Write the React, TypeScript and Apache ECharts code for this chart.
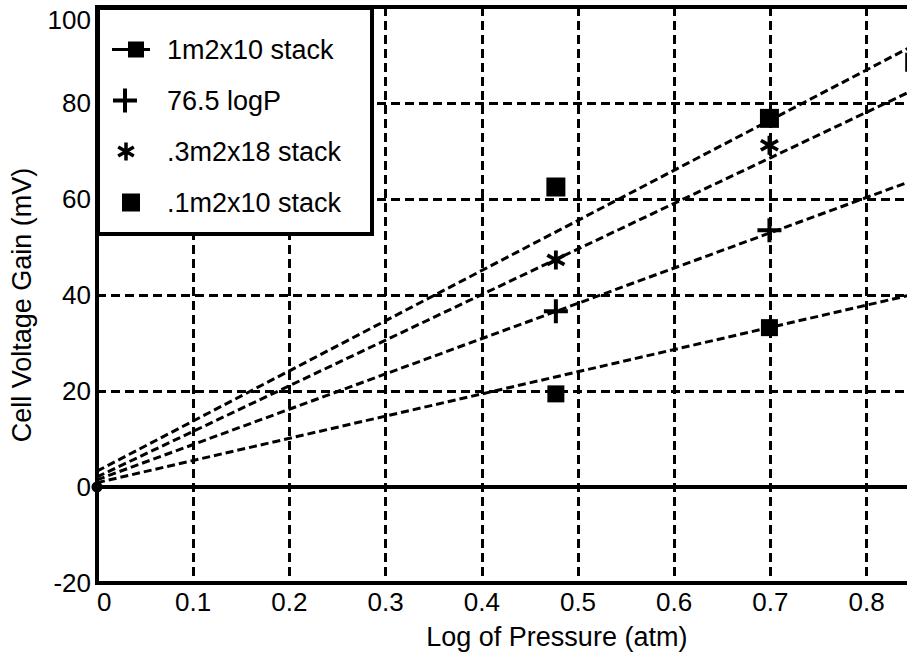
import React, { useEffect, useRef } from "react";
import * as echarts from "echarts";

// ---------- data ----------
const seriesNames = ["1m2x10 stack", "76.5 logP", ".3m2x18 stack", ".1m2x10 stack"];

const stack1X = [0, 0.477, 0.699, 0.85];
const stack1Y = [0, 62.5, 76.8, 88.5];
const logPX = [0.477, 0.699];
const logPY = [36.6, 53.5];
const stack3X = [0.477, 0.699];
const stack3Y = [47.3, 71.2];
const stack01X = [0.477, 0.699];
const stack01Y = [19.4, 33.2];

// fitted lines: value at x = fitX[0] and x = fitX[1]
const fitX = [0, 0.956];
const fitTop = [3.3, 103.2];
const fitStar = [2.1, 92.9];
const fitLogP = [1.5, 71.8];
const fitBottom = [0.9, 45.1];

const xMin = 0;
const xMax = 0.956;
const xInterval = 0.1;
const xLastLabel = 0.8;
const yMin = -20;
const yMax = 100;
const yInterval = 20;

const xTitle = "Log of Pressure (atm)";
const yTitle = "Cell Voltage Gain (mV)";

// ---------- shape helpers ----------
const f = (v: number) => v.toFixed(3);
function rectPath(x1: number, y1: number, x2: number, y2: number) {
  return `M${f(x1)},${f(y1)}H${f(x2)}V${f(y2)}H${f(x1)}Z`;
}
function barPath(cx: number, cy: number, half: number, hw: number, deg: number) {
  const t = (deg * Math.PI) / 180;
  const d = [Math.cos(t), Math.sin(t)];
  const n = [-Math.sin(t), Math.cos(t)];
  const p = (a: number, b: number) =>
    `${f(cx + a * half * d[0] + b * hw * n[0])},${f(cy + a * half * d[1] + b * hw * n[1])}`;
  return `M${p(-1, 1)}L${p(-1, -1)}L${p(1, -1)}L${p(1, 1)}Z`;
}
function asteriskPath(cx: number, cy: number, half: number, hw: number) {
  return barPath(cx, cy, half, hw, 90) + barPath(cx, cy, half, hw, 30) + barPath(cx, cy, half, hw, 150);
}
const LW = 54;
const LH = 24;
const specks = `M0,0L0.01,0L0,0.01ZM${LW},${LH}L${LW - 0.01},${LH}L${LW},${LH - 0.01}Z`;
const legendIcons = [
  "path://" + specks + rectPath(4, 10.5, 42, 13.5) + rectPath(20, 4, 36, 20),
  "path://" + specks + rectPath(5, 10, 29, 14) + rectPath(15, 0, 19, 24),
  "path://" + specks + asteriskPath(18, 12, 9, 1.75),
  "path://" + specks + rectPath(14, 3, 32, 21),
];
const plusSymbol = "path://" + rectPath(0, 10, 24, 14) + rectPath(10, 0, 14, 24);
const starSymbol = "path://" + asteriskPath(9, 9, 9, 1.75);

const FONT = "'Liberation Sans', Arial, Helvetica, sans-serif";

const zip = (xs: number[], ys: number[]) => xs.map((x, i) => [x, ys[i]]);

export default function App() {
  const ref = useRef<HTMLDivElement>(null);
  useEffect(() => {
    if (!ref.current) return;
    const chart = echarts.init(ref.current, undefined, { renderer: "svg" });
    const dashed = { color: "#000", width: 3, type: [9, 5] as any };
    const black = { color: "#000", opacity: 1 };
    const fitLine = (name: string, ys: number[]) => ({
      name,
      type: "line",
      data: zip(fitX, ys),
      showSymbol: false,
      symbol: "none",
      lineStyle: { color: "#000", width: 3, type: [8, 4] },
      silent: true,
      z: 3,
    });
    const option: any = {
      animation: false,
      textStyle: { fontFamily: FONT, color: "#000" },
      grid: {
        left: 97,
        top: 7,
        bottom: 74,
        width: 962 * xMax,
        outerBoundsMode: "none",
        containLabel: false,
        show: true,
        borderColor: "#000",
        borderWidth: 4,
        backgroundColor: "#fff",
      },
      xAxis: {
        type: "value",
        min: xMin,
        max: xMax,
        interval: xInterval,
        name: xTitle,
        nameLocation: "middle",
        nameGap: 40,
        nameTextStyle: { fontSize: 27, color: "#000", fontFamily: FONT },
        axisLine: { show: true, onZero: false, lineStyle: { color: "#000", width: 4 } },
        axisTick: { show: false },
        axisLabel: {
          fontSize: 26,
          color: "#000",
          margin: 6,
          fontFamily: FONT,
          alignMinLabel: "left",
          showMaxLabel: false,
          formatter: (v: number) => (v > xLastLabel + 0.01 ? "" : String(+v.toFixed(2))),
        },
        splitLine: { show: true, lineStyle: dashed },
      },
      yAxis: {
        type: "value",
        min: yMin,
        max: yMax,
        interval: yInterval,
        name: yTitle,
        nameLocation: "middle",
        nameGap: 62,
        nameTextStyle: { fontSize: 27, color: "#000", fontFamily: FONT, padding: [0, 20, 0, 0] },
        axisLine: { show: true, onZero: false, lineStyle: { color: "#000", width: 4 } },
        axisTick: { show: false },
        axisLabel: {
          fontSize: 26,
          color: "#000",
          margin: 6,
          fontFamily: FONT,
          verticalAlignMaxLabel: "top",
        },
        splitLine: { show: true, lineStyle: dashed },
      },
      legend: {
        orient: "vertical",
        left: 103,
        top: 31,
        itemWidth: LW,
        itemHeight: LH,
        itemGap: 24,
        selectedMode: false,
        z: 20,
        textStyle: { fontSize: 27, color: "#000", fontFamily: FONT },
        data: seriesNames.map((n, i) => ({ name: n, icon: legendIcons[i], itemStyle: black })),
      },
      graphic: [
        {
          type: "rect",
          z: 10,
          shape: { x: 98, y: 8, width: 274, height: 226 },
          style: { fill: "#fff", stroke: "#000", lineWidth: 4 },
        },
      ],
      series: [
        fitLine("fit1", fitTop),
        fitLine("fit2", fitStar),
        fitLine("fit3", fitLogP),
        fitLine("fit4", fitBottom),
        {
          name: seriesNames[0],
          type: "scatter",
          symbol: "rect",
          symbolSize: 19,
          itemStyle: black,
          z: 4,
          data: zip(stack1X, stack1Y).map((v) =>
            v[0] === 0 ? { value: v, symbol: "circle", symbolSize: 11 } : { value: v }
          ),
          markLine: {
            silent: true,
            symbol: "none",
            label: { show: false },
            lineStyle: { color: "#000", width: 4, type: "solid", opacity: 1 },
            data: [{ yAxis: 0 }],
          },
        },
        {
          name: seriesNames[1],
          type: "scatter",
          symbol: plusSymbol,
          symbolSize: 24,
          itemStyle: black,
          z: 4,
          data: zip(logPX, logPY),
        },
        {
          name: seriesNames[2],
          type: "scatter",
          symbol: starSymbol,
          symbolSize: 19,
          itemStyle: black,
          z: 4,
          data: zip(stack3X, stack3Y),
        },
        {
          name: seriesNames[3],
          type: "scatter",
          symbol: "rect",
          symbolSize: 17,
          itemStyle: black,
          z: 4,
          data: zip(stack01X, stack01Y),
        },
      ],
    };
    chart.setOption(option);
    return () => chart.dispose();
  }, []);
  return (
    <div
      ref={ref}
      style={{ position: "fixed", left: 0, top: 0, width: 907, height: 657, background: "#fff" }}
    />
  );
}
